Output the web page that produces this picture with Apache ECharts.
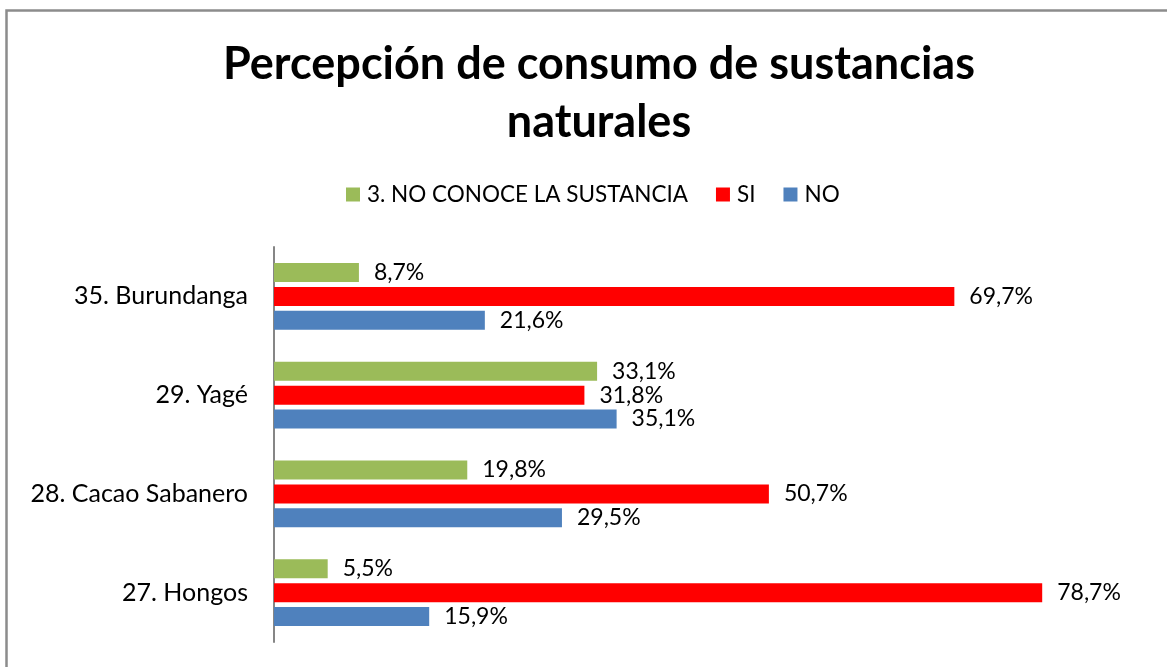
<!DOCTYPE html>
<html><head><meta charset="utf-8">
<script src="https://cdn.jsdelivr.net/npm/echarts@6/dist/echarts.min.js"></script>
<style>html,body{margin:0;padding:0;background:#fff}#c{width:1167px;height:667px}</style>
</head><body><div id="c"></div>
<script>
const categories = ['27. Hongos', '28. Cacao Sabanero', '29. Yagé', '35. Burundanga'];
const noConoce = [5.5, 19.8, 33.1, 8.7];
const si = [78.7, 50.7, 31.8, 69.7];
const no = [15.9, 29.5, 35.1, 21.6];
const seriesNames = ['3. NO CONOCE LA SUSTANCIA', 'SI', 'NO'];
const colors = ['#9BBB59', '#FF0000', '#4F81BD'];

const font = 'Lato, "Open Sans", sans-serif';
const fmt = p => p.value.toFixed(1).replace('.', ',') + '%';
const mk = (name, data, color) => ({
  name, type: 'bar', data,
  itemStyle: { color },
  barWidth: 19,
  barGap: '26%',
  label: { show: true, position: 'right', distance: 15, formatter: fmt,
           color: '#000', fontSize: 23, fontFamily: font }
});
const chart = echarts.init(document.getElementById('c'));
chart.setOption({
  animation: false,
  title: {
    text: 'Percepción de consumo de sustancias\nnaturales',
    left: 594, top: 30,
    textAlign: 'center',
    textStyle: { fontSize: 45, fontWeight: 'bold', fontFamily: font, color: '#000', lineHeight: 58 }
  },
  legend: {
    data: seriesNames, top: 178, left: 341,
    itemWidth: 14, itemHeight: 14, itemGap: 28,
    icon: 'rect',
    textStyle: { fontSize: 22.5, fontFamily: font, color: '#000', padding: [0, 0, 0, 2] }
  },
  graphic: [{ type: 'rect', shape: { x: 6.5, y: 10.5, width: 1300, height: 800 },
              style: { fill: 'none', stroke: '#8c8c8c', lineWidth: 2.5 }, silent: true }],
  grid: { left: 274, right: 14.5, top: 247, bottom: 25, containLabel: false },
  xAxis: { type: 'value', min: 0, max: 90, show: false },
  yAxis: {
    type: 'category', data: categories,
    axisLine: { show: true, lineStyle: { color: '#868686', width: 2 } },
    axisTick: { show: false },
    axisLabel: { fontSize: 25, fontFamily: font, color: '#000', margin: 26 }
  },
  series: [ mk(seriesNames[0], noConoce, colors[0]), mk(seriesNames[1], si, colors[1]), mk(seriesNames[2], no, colors[2]) ]
});
</script></body></html>
